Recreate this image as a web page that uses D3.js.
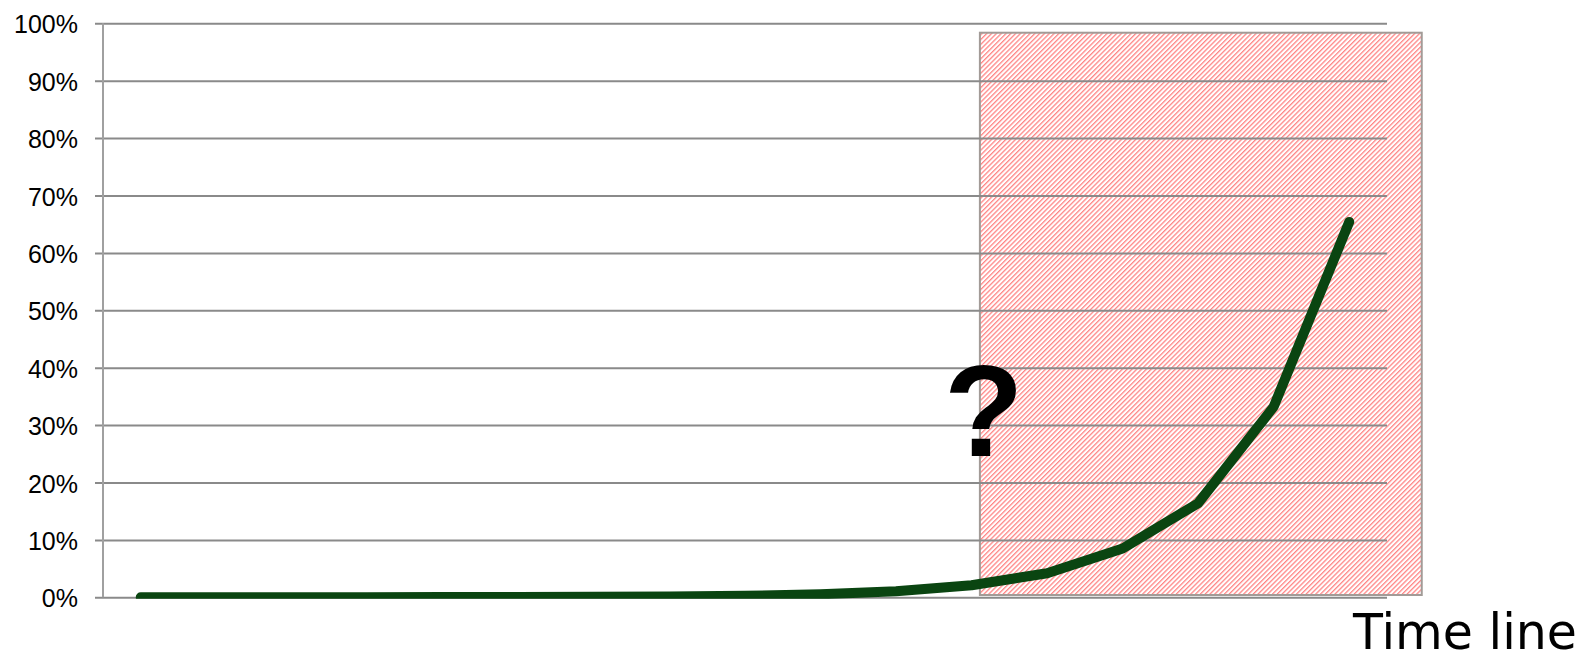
<!DOCTYPE html>
<html>
<head>
<meta charset="utf-8">
<script src="https://cdn.jsdelivr.net/npm/d3@7/dist/d3.min.js"></script>
<style>
  html, body { margin: 0; padding: 0; background: #ffffff; }
  svg { display: block; }
</style>
</head>
<body>
<script>
// ---- data ----
const categories = ["t1","t2","t3","t4","t5","t6","t7","t8","t9","t10","t11","t12","t13","t14","t15","t16","t17"];
const values = [0.0, 0.01, 0.02, 0.03, 0.04, 0.06, 0.08, 0.13, 0.26, 0.52, 1.05, 2.1, 4.2, 8.5, 16.4, 33.2, 65.4]; // percent
const yTicks = [0, 10, 20, 30, 40, 50, 60, 70, 80, 90, 100];
const yTickLabels = ["0%","10%","20%","30%","40%","50%","60%","70%","80%","90%","100%"];
// shaded "unknown future" region, in category-index / percent units
const shadeRange = { from: 11.11, to: 16.96, top: 98.36, bottom: 0.4 };
const questionMark = { label: "?", at: 11.16, base: 24.55 };
const axisTitle = "Time line";

// ---- layout ----
const W = 1582, H = 656;
const plot = { left: 103, right: 1387, top: 23.3, bottom: 597.3 };

const svg = d3.select("body").append("svg").attr("width", W).attr("height", H);

const x = d3.scaleBand().domain(categories).range([plot.left, plot.right]);
const xi = d3.scaleLinear().domain([-0.5, categories.length - 0.5]).range([plot.left, plot.right]);
const y = d3.scaleLinear().domain([0, 100]).range([plot.bottom, plot.top]);

// hatch pattern: upward diagonal stripes
const defs = svg.append("defs");
const pat = defs.append("pattern")
  .attr("id", "hatch").attr("patternUnits", "userSpaceOnUse")
  .attr("width", 3.4).attr("height", 10)
  .attr("patternTransform", "rotate(45)");
pat.append("rect").attr("width", 3.4).attr("height", 10).attr("fill", "#ffffff");
pat.append("rect").attr("x", 0).attr("width", 1.3).attr("height", 10).attr("fill", "#ff8585");

defs.append("clipPath").attr("id", "plotclip").append("rect")
  .attr("x", 0).attr("y", 0).attr("width", W).attr("height", plot.bottom + 1.5);

// shaded region
svg.append("rect")
  .attr("x", xi(shadeRange.from))
  .attr("y", y(shadeRange.top))
  .attr("width", xi(shadeRange.to) - xi(shadeRange.from))
  .attr("height", y(shadeRange.bottom) - y(shadeRange.top))
  .attr("fill", "url(#hatch)")
  .attr("stroke", "#a29b97").attr("stroke-width", 2);

// gridlines + ticks via axis
const yAxis = d3.axisLeft(y)
  .tickValues(yTicks)
  .tickSize(-(plot.right - plot.left) - 8)
  .tickFormat((d, i) => yTickLabels[i]);
const gy = svg.append("g").attr("transform", `translate(${plot.left - 8},0)`).call(yAxis);
gy.select(".domain").remove();
gy.selectAll(".tick line").attr("stroke", "#8a8a8a").attr("stroke-width", 2);
gy.selectAll(".tick text")
  .attr("x", -17)
  .attr("dy", "0.38em")
  .attr("fill", "#000")
  .style("font-family", "'Liberation Sans', Arial, sans-serif")
  .style("font-size", "25px");

// vertical axis line
svg.append("line")
  .attr("x1", plot.left).attr("x2", plot.left)
  .attr("y1", y(100)).attr("y2", y(0))
  .attr("stroke", "#a0a0a0").attr("stroke-width", 2);

// line series
const line = d3.line()
  .x((d, i) => x(categories[i]) + x.bandwidth() / 2)
  .y(d => y(d));
svg.append("path")
  .datum(values)
  .attr("d", line)
  .attr("fill", "none")
  .attr("stroke", "#0a4511")
  .attr("stroke-width", 10)
  .attr("stroke-linejoin", "round")
  .attr("stroke-linecap", "round")
  .attr("clip-path", "url(#plotclip)");

// question mark
svg.append("text")
  .attr("x", xi(questionMark.at))
  .attr("y", y(questionMark.base))
  .attr("text-anchor", "middle")
  .style("font-family", "'Liberation Sans', Arial, sans-serif")
  .style("font-weight", "bold")
  .style("font-size", "130px")
  .attr("fill", "#000")
  .text(questionMark.label);

// axis title
svg.append("text")
  .attr("x", 1577)
  .attr("y", 649)
  .attr("text-anchor", "end")
  .style("font-family", "'DejaVu Sans', Verdana, sans-serif")
  .style("font-size", "49px")
  .attr("fill", "#000")
  .text(axisTitle);
</script>
</body>
</html>
